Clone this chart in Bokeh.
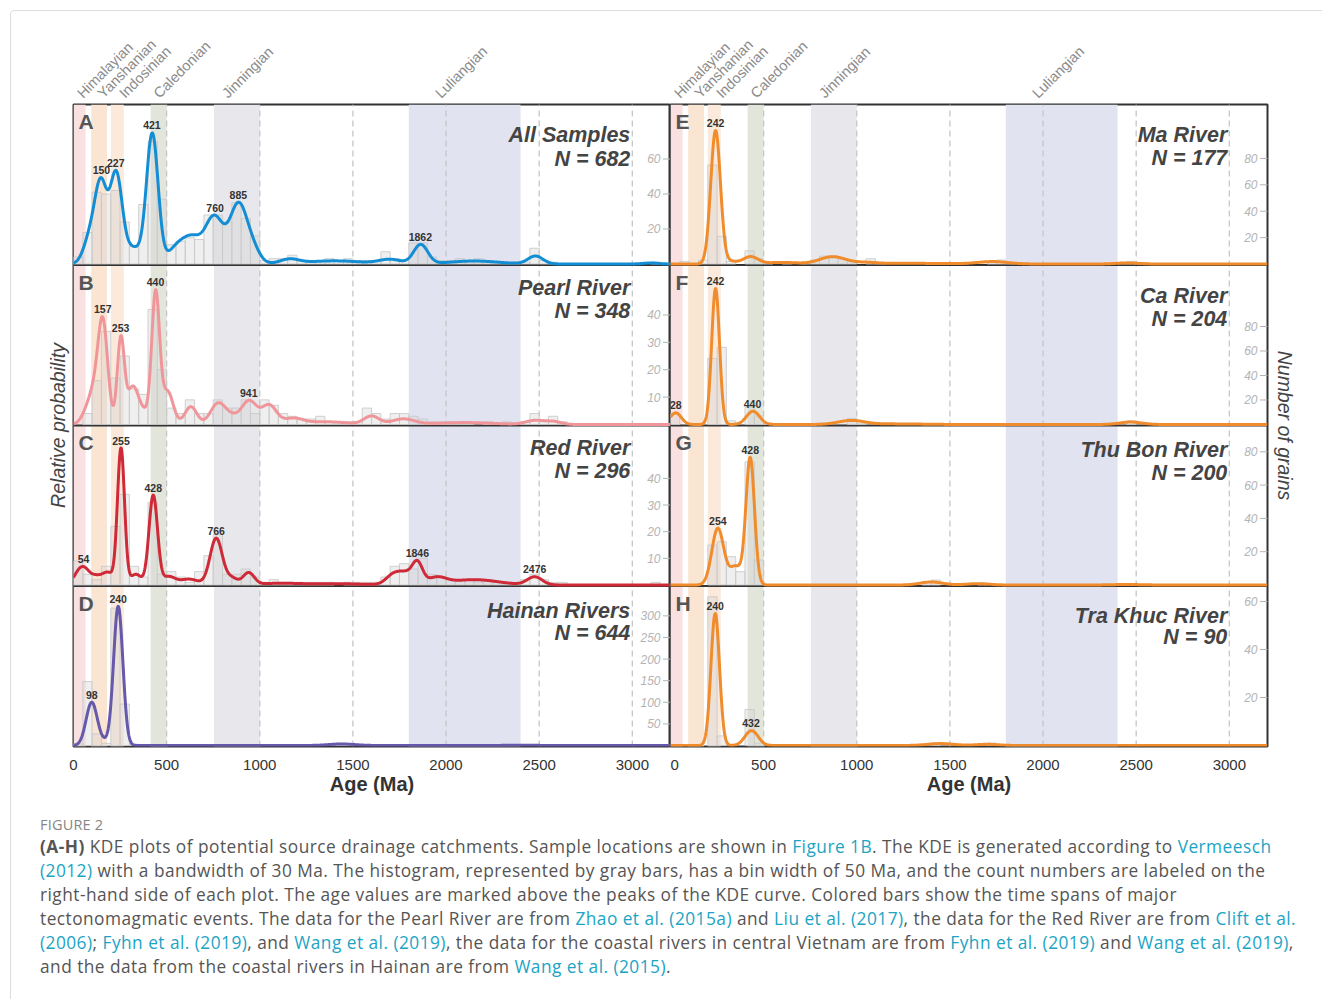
import math
import numpy as np
from bokeh.plotting import figure
from bokeh.models import Range1d, FixedTicker, Div, ColumnDataSource, LabelSet
from bokeh.layouts import row, column
from bokeh.core.properties import value
from bokeh.embed import file_html
from bokeh.resources import INLINE

# ---------------------------------------------------------------- data
age_ticks = [0, 500, 1000, 1500, 2000, 2500, 3000]
age_max = 3205
bin_width = 50
bin_left = list(range(0, 3200, bin_width))

# tectonomagmatic events (Ma)
event_names = ["Himalayian", "Yanshanian", "Indosinian", "Caledonian", "Jinningian", "Luliangian"]
event_start = [0, 95, 200, 414, 754, 1800]
event_end = [65, 180, 270, 500, 1000, 2400]
event_label_at = [22, 132, 248, 432, 800, 1945]

panel_letters = ["A", "B", "C", "D", "E", "F", "G", "H"]
panel_names = ["All Samples", "Pearl River", "Red River", "Hainan Rivers",
               "Ma River", "Ca River", "Thu Bon River", "Tra Khuc River"]
panel_n = [682, 348, 296, 644, 177, 204, 200, 90]

# histogram counts, 50 Ma bins from 0 to 3200 Ma
counts_A = [4, 18, 41, 40, 42, 24, 10, 34, 70, 37, 11, 13, 15, 14, 28, 28,
            24, 35, 26, 16, 2, 3, 3, 5, 2, 2, 2, 3, 2, 3, 2, 2,
            2, 7, 3, 2, 12, 12, 4, 2, 2, 3, 2, 3, 2, 1, 1, 1,
            1, 9, 2, 1, 0, 0, 0, 0, 0, 0, 0, 0, 0, 0, 1, 0]
counts_B = [0, 4, 16, 34, 17, 25, 13, 11, 42, 20, 6, 4, 9, 4, 4, 9,
            6, 6, 9, 4, 9, 7, 4, 3, 2, 2, 3, 1, 1, 1, 1, 6,
            4, 2, 4, 4, 3, 2, 1, 1, 1, 1, 1, 0, 1, 0, 1, 0,
            1, 4, 1, 3, 1, 0, 0, 0, 0, 0, 0, 0, 0, 0, 0, 0]
counts_C = [9, 4, 2, 7, 22, 34, 7, 3, 31, 4, 5, 3, 1, 5, 11, 19,
            4, 4, 6, 3, 1, 2, 1, 1, 1, 1, 1, 1, 0, 1, 1, 1,
            1, 3, 7, 8, 6, 10, 4, 3, 2, 2, 2, 1, 2, 1, 1, 1,
            2, 4, 2, 1, 1, 0, 0, 0, 0, 0, 0, 0, 0, 0, 1, 0]
counts_D = [4, 148, 27, 5, 318, 96, 3, 0, 0, 0, 0, 0, 0, 0, 0, 0,
            0, 0, 0, 0, 0, 0, 0, 0, 0, 0, 0, 0, 5, 2, 0, 0,
            0, 0, 0, 0, 0, 0, 0, 0, 0, 0, 0, 0, 0, 0, 0, 0,
            2, 0, 0, 0, 0, 0, 0, 0, 0, 0, 0, 0, 0, 0, 0, 0]
counts_E = [0, 2, 0, 3, 75, 21, 2, 0, 10, 4, 1, 0, 1, 0, 1, 3,
            6, 6, 4, 2, 0, 4, 1, 0, 0, 0, 0, 0, 0, 0, 0, 1,
            0, 0, 2, 3, 1, 0, 0, 0, 0, 0, 0, 0, 0, 0, 0, 0,
            1, 2, 1, 0, 0, 0, 0, 0, 0, 0, 0, 0, 0, 0, 0, 0]
counts_F = [9, 0, 0, 0, 54, 63, 3, 0, 14, 7, 1, 0, 0, 0, 0, 0,
            1, 0, 0, 5, 1, 0, 0, 0, 0, 0, 0, 0, 0, 0, 0, 0,
            0, 0, 0, 0, 0, 0, 0, 0, 0, 0, 0, 0, 0, 0, 0, 0,
            0, 3, 0, 0, 0, 0, 0, 0, 0, 0, 0, 0, 0, 0, 0, 0]
counts_G = [0, 0, 0, 0, 24, 26, 17, 8, 74, 15, 0, 0, 0, 0, 0, 0,
            0, 0, 0, 0, 0, 0, 0, 0, 0, 0, 0, 2, 3, 0, 0, 0,
            0, 1, 0, 0, 0, 0, 0, 0, 0, 0, 0, 0, 0, 0, 0, 0,
            0, 0, 0, 0, 0, 0, 0, 0, 0, 0, 0, 0, 0, 0, 0, 0]
counts_H = [0, 0, 0, 0, 62, 4, 0, 0, 15, 1, 0, 0, 0, 0, 0, 0,
            0, 0, 0, 0, 0, 0, 0, 0, 0, 0, 0, 0, 1, 0, 0, 0,
            0, 0, 1, 0, 0, 0, 0, 0, 0, 0, 0, 0, 0, 0, 0, 0,
            0, 0, 0, 0, 0, 0, 0, 0, 0, 0, 0, 0, 0, 0, 0, 0]

# KDE curves as kernel components: centre age (Ma), height (grains per bin), spread (Ma)
kde_age_A = [90, 148, 229, 320, 423, 560, 640, 755, 885, 960, 1160, 1400, 1700, 1864, 2150, 2480, 3100]
kde_height_A = [15, 43.5, 50.5, 9, 74, 10, 12, 27, 33, 8, 2.5, 1.8, 2.5, 11, 1.7, 4.5, 0.6]
kde_width_A = [35, 32, 32, 45, 31, 50, 45, 50, 45, 40, 50, 150, 60, 38, 130, 40, 40]

kde_age_B = [70, 112, 158, 254, 318, 380, 441, 505, 630, 775, 850, 943, 1050, 1180, 1350, 1600, 1770, 2100, 2480, 2580]
kde_height_B = [3.5, 10, 36, 31, 13.5, 4, 47.5, 12, 6.5, 7.5, 2.5, 8.5, 7, 2, 1, 3, 2, 0.7, 1.5, 1]
kde_width_B = [30, 30, 26, 19, 30, 30, 21, 30, 32, 40, 40, 40, 40, 50, 120, 40, 60, 150, 50, 40]

kde_age_C = [20, 58, 120, 185, 255, 335, 428, 510, 620, 766, 850, 940, 1100, 1400, 1720, 1785, 1846, 1950, 2150, 2476]
kde_height_C = [3, 5.5, 3, 4.5, 51, 4, 33.5, 3, 2.2, 17.5, 2.5, 4.5, 0.6, 0.5, 4, 3.5, 8, 2.5, 2, 3]
kde_width_C = [25, 28, 30, 30, 19, 30, 23, 35, 50, 33, 30, 30, 100, 150, 40, 35, 28, 50, 130, 40]

kde_age_D = [98, 170, 240, 1440, 2400]
kde_height_D = [100, 7, 322, 3.5, 0.5]
kde_width_D = [30, 25, 25, 70, 100]

kde_age_E = [242, 320, 430, 600, 870, 1050, 1300, 1730, 2450]
kde_height_E = [101, 2, 5.5, 1.2, 5.5, 1, 0.5, 1.8, 0.8]
kde_width_E = [26, 35, 40, 80, 70, 60, 200, 80, 60]

kde_age_F = [28, 242, 443, 970, 1200, 2470]
kde_height_F = [9.5, 111, 10.8, 3.2, 0.5, 2]
kde_width_F = [30, 21, 35, 70, 150, 60]

kde_age_G = [254, 350, 428, 1400, 1650, 2450]
kde_height_G = [34, 11, 76, 1.8, 0.8, 0.3]
kde_width_G = [32, 33, 23, 60, 60, 80]

kde_age_H = [240, 435, 1450, 1700]
kde_height_H = [55, 6.2, 0.8, 0.5]
kde_width_H = [23, 35, 70, 60]

# labelled KDE peaks (Ma)
peaks_A = [150, 227, 421, 760, 885, 1862]
peaks_B = [157, 253, 440, 941]
peaks_C = [54, 255, 428, 766, 1846, 2476]
peaks_D = [98, 240]
peaks_E = [242]
peaks_F = [28, 242, 440]
peaks_G = [254, 428]
peaks_H = [240, 432]

# number-of-grains ticks
grain_ticks_A = [20, 40, 60]
grain_ticks_B = [10, 20, 30, 40]
grain_ticks_C = [10, 20, 30, 40]
grain_ticks_D = [50, 100, 150, 200, 250, 300]
grain_ticks_E = [20, 40, 60, 80]
grain_ticks_F = [20, 40, 60, 80]
grain_ticks_G = [20, 40, 60, 80]
grain_ticks_H = [20, 40, 60]

# ---------------------------------------------------------------- style
FONT = "Liberation Sans"
FRAME_W, FRAME_H = 597, 642
PANEL_PX = FRAME_H / 4.0
PX_PER_MA = FRAME_W / age_max
event_colors = ["#fae1e1", "#fae4d2", "#fbeadc", "#e2e5da", "#e8e8ec", "#e1e3f0"]
curve_colors = ["#138dd4", "#f0969b", "#cf2a37", "#6658ab",
                "#f08c2c", "#f08c2c", "#f08c2c", "#f08c2c"]
grain_axis_top = [91.7, 58.6, 60.2, 371.5, 121.6, 131.0, 96.4, 66.9]
# vertical centres of the two title lines, px below the panel top
title_centres = [(30.5, 54.5), (22.5, 45.5), (22.5, 45.5), (24.5, 47),
                 (30.5, 53.5), (30.5, 53.5), (24.5, 47.5), (29.5, 51)]

all_counts = [counts_A, counts_B, counts_C, counts_D, counts_E, counts_F, counts_G, counts_H]
all_kde = [(kde_age_A, kde_height_A, kde_width_A), (kde_age_B, kde_height_B, kde_width_B),
           (kde_age_C, kde_height_C, kde_width_C), (kde_age_D, kde_height_D, kde_width_D),
           (kde_age_E, kde_height_E, kde_width_E), (kde_age_F, kde_height_F, kde_width_F),
           (kde_age_G, kde_height_G, kde_width_G), (kde_age_H, kde_height_H, kde_width_H)]
all_peaks = [peaks_A, peaks_B, peaks_C, peaks_D, peaks_E, peaks_F, peaks_G, peaks_H]
all_ticks = [grain_ticks_A, grain_ticks_B, grain_ticks_C, grain_ticks_D,
             grain_ticks_E, grain_ticks_F, grain_ticks_G, grain_ticks_H]

age_grid = np.arange(0, age_max + 1, 2.0)


def kde_curve(ages, heights, widths):
    y = np.zeros_like(age_grid)
    for a, h, w in zip(ages, heights, widths):
        y += h * np.exp(-0.5 * ((age_grid - a) / w) ** 2)
    return y


def build_column(ids, left):
    p = figure(frame_width=FRAME_W, frame_height=FRAME_H,
               x_range=Range1d(0, age_max), y_range=Range1d(0, 4),
               min_border_left=62 if left else 0, min_border_right=0 if left else 54,
               min_border_top=2, min_border_bottom=60,
               y_axis_location="left" if left else "right",
               toolbar_location=None, output_backend="svg")
    p.grid.visible = False
    p.outline_line_color = "#333333"
    p.outline_line_width = 2
    p.background_fill_color = "white"
    p.border_fill_color = "white"

    xa = p.xaxis[0]
    xa.ticker = FixedTicker(ticks=age_ticks)
    xa.axis_line_color = None
    xa.major_tick_line_color = None
    xa.minor_tick_line_color = None
    xa.major_label_text_font = FONT
    xa.major_label_text_font_size = "15px"
    xa.major_label_text_color = "#333333"
    xa.major_label_standoff = 7
    xa.axis_label = "Age (Ma)"
    xa.axis_label_text_font = FONT
    xa.axis_label_text_font_style = "bold"
    xa.axis_label_text_font_size = "20px"
    xa.axis_label_text_color = "#333333"
    xa.axis_label_standoff = 0

    ya = p.yaxis[0]
    ya.ticker = FixedTicker(ticks=[])
    ya.axis_line_color = None
    ya.major_tick_line_color = None
    ya.minor_tick_line_color = None
    ya.axis_label = "Relative probability" if left else "Number of grains"
    ya.axis_label_text_font = FONT
    ya.axis_label_text_font_style = "italic"
    ya.axis_label_text_font_size = "19.5px"
    ya.axis_label_text_color = "#444444"
    ya.axis_label_standoff = 5 if left else 6

    # event bands, dashed age guides, panel separators
    p.quad(left=event_start, right=event_end, bottom=0, top=4,
           fill_color=event_colors, line_color=None, level="underlay")
    guides = age_ticks[1:]
    p.segment(x0=guides, y0=[0] * len(guides), x1=guides, y1=[4] * len(guides),
              line_color="#c6c6c6", line_width=1.3, line_dash="6 4", level="underlay")
    p.segment(x0=[0] * 3, y0=[1, 2, 3], x1=[age_max] * 3, y1=[1, 2, 3],
              line_color="#333333", line_width=2, level="underlay")

    for slot, k in enumerate(ids):
        top = grain_axis_top[k]
        lift = top / PANEL_PX          # one pixel, in grain units
        rname = "panel%d" % k
        p.extra_y_ranges[rname] = Range1d(-(3 - slot) * top - lift, (slot + 1) * top - lift)

        cnt = all_counts[k]
        lefts = [b for b, c in zip(bin_left, cnt) if c > 0]
        tops = [c for c in cnt if c > 0]
        p.quad(left=lefts, right=[b + bin_width for b in lefts], bottom=0, top=tops,
               fill_color="#d2d2d2", fill_alpha=0.36, line_color="#c9c9c9", line_alpha=0.85,
               line_width=1, y_range_name=rname)

        curve = kde_curve(*all_kde[k])
        p.line(age_grid, curve, line_color=curve_colors[k], line_width=3,
               line_join="round", y_range_name=rname)

        # peak ages above the curve
        pk = all_peaks[k]
        pk_y = []
        for a in pk:
            m = (age_grid >= a - 30) & (age_grid <= a + 30)
            pk_y.append(float(curve[m].max()) + 7.5 * lift)
        p.text(x=pk, y=pk_y, text=[str(a) for a in pk], text_font=value(FONT),
               text_font_size=value("10.5px"), text_font_style="bold", text_color="#333333",
               text_align="center", text_baseline="middle", y_range_name=rname)

        # number-of-grains scale, inside the right edge
        tk = all_ticks[k]
        p.text(x=[age_max] * len(tk), y=tk, text=[str(t) for t in tk], x_offset=-10,
               text_font=value(FONT), text_font_size=value("12px"), text_font_style="italic",
               text_color="#b4b4b4", text_align="right", text_baseline="middle",
               y_range_name=rname)
        p.scatter(x=[age_max] * len(tk), y=tk, marker="dash", size=15,
                  line_color="#b4b4b4", line_width=1, y_range_name=rname)

        # panel letter and title
        ptop = 4 - slot
        p.text(x=[0], y=[ptop - 17 / PANEL_PX], text=[panel_letters[k]], x_offset=5,
               text_font=value(FONT), text_font_size=value("21px"), text_font_style="bold",
               text_color="#555555", text_align="left", text_baseline="middle")
        c1, c2 = title_centres[k]
        p.text(x=[3000, 3000], y=[ptop - c1 / PANEL_PX, ptop - c2 / PANEL_PX],
               text=[panel_names[k], "N = %d" % panel_n[k]], x_offset=-2,
               text_font=value(FONT), text_font_size=value("21.5px"),
               text_font_style="bold italic", text_color="#444444",
               text_align="right", text_baseline="middle")
    return p


def build_header():
    # one strip above both columns; the right column's ages are offset by one column width
    t = figure(frame_width=2 * FRAME_W, frame_height=91,
               x_range=Range1d(0, 2 * age_max), y_range=Range1d(0, 91),
               min_border_left=62, min_border_right=54,
               min_border_top=0, min_border_bottom=0,
               x_axis_location=None, y_axis_location=None,
               toolbar_location=None, output_backend="svg")
    t.grid.visible = False
    t.outline_line_color = None
    # labels run at 45 degrees from their baseline start; anchor on the text mid-line
    dx, dy = 2.0, 3.0
    xs = [a + dx / PX_PER_MA for a in event_label_at]
    xs += [a + age_max + dx / PX_PER_MA for a in event_label_at]
    src = ColumnDataSource(dict(x=xs, y=[4 + dy] * len(xs), t=event_names * 2))
    t.add_layout(LabelSet(x="x", y="y", text="t", source=src, angle=math.pi / 4,
                          text_font=value(FONT), text_font_size=value("14.5px"),
                          text_color="#8a8a8a", text_align="left", text_baseline="middle"))
    return t


left_col = build_column([0, 1, 2, 3], True)
right_col = build_column([4, 5, 6, 7], False)
header = build_header()

link = "color:#1ba4c4;text-decoration:none"


def ref(s):
    return '<span style="%s">%s</span>' % (link, s)


caption_lines = [
    "<b>(A-H)</b> KDE plots of potential source drainage catchments. Sample locations are shown in "
    + ref("Figure 1B") + ". The KDE is generated according to " + ref("Vermeesch"),
    ref("(2012)") + " with a bandwidth of 30 Ma. The histogram, represented by gray bars, has a bin width "
    "of 50 Ma, and the count numbers are labeled on the",
    "right-hand side of each plot. The age values are marked above the peaks of the KDE curve. "
    "Colored bars show the time spans of major",
    "tectonomagmatic events. The data for the Pearl River are from " + ref("Zhao et al. (2015a)")
    + " and " + ref("Liu et al. (2017)") + ", the data for the Red River are from " + ref("Clift et al."),
    ref("(2006)") + "; " + ref("Fyhn et al. (2019)") + ", and " + ref("Wang et al. (2019)")
    + ", the data for the coastal rivers in central Vietnam are from " + ref("Fyhn et al. (2019)")
    + " and " + ref("Wang et al. (2019)") + ",",
    "and the data from the coastal rivers in Hainan are from " + ref("Wang et al. (2015)") + ".",
]
caption_html = (
    '<div style="margin-left:24px;padding-top:3px;font-family:\'Open Sans\',sans-serif;'
    'color:#555555;white-space:nowrap">'
    '<div style="font-size:14.5px;line-height:21px;color:#858585;letter-spacing:0.2px">FIGURE 2</div>'
    '<div style="font-size:17.3px;line-height:24px;letter-spacing:0.47px">'
    + "<br>".join(caption_lines) + "</div></div>"
)
caption = Div(text=caption_html, width=1310, height=192)

layout = column(header, row(left_col, right_col), caption,
                margin=(10, 0, 0, 10),
                styles={"border": "1px solid #dddddd", "border-radius": "4px"})

open("out.html", "w").write(file_html(layout, INLINE))
